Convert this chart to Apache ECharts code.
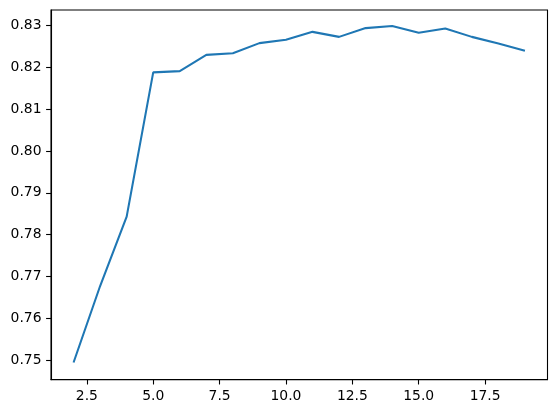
<!DOCTYPE html>
<html><head><meta charset="utf-8">
<script src="https://cdn.jsdelivr.net/npm/echarts@6/dist/echarts.min.js"></script>
<style>html,body{margin:0;padding:0;background:#fff}#c{width:556px;height:413px}</style>
</head><body><div id="c"></div>
<script>
const xValues = [2,3,4,5,6,7,8,9,10,11,12,13,14,15,16,17,18,19];
const yValues = [0.7494,0.7677,0.7843,0.8188,0.8191,0.8230,0.8234,0.8258,0.8266,0.8285,0.8273,0.8294,0.8299,0.8283,0.8293,0.8273,0.8257,0.8240];
const xTicks = [2.5,5.0,7.5,10.0,12.5,15.0,17.5];
const yTicks = [0.75,0.76,0.77,0.78,0.79,0.80,0.81,0.82,0.83];

const chart = echarts.init(document.getElementById('c'), null, {renderer:'canvas'});
const font = {fontFamily:'DejaVu Sans', fontSize:13.9, color:'#000'};
chart.setOption({
  animation:false,
  grid:{left:51, right:8.5, top:10, bottom:33.4, show:true, borderColor:'#000', borderWidth:1.1, backgroundColor:'#fff'},
  xAxis:{type:'value', min:1.15, max:19.85,
    axisLine:{show:true, lineStyle:{color:'#000', width:1.1}},
    axisTick:{show:true, length:4.9, customValues:xTicks, lineStyle:{color:'#000', width:1.1}},
    axisLabel:Object.assign({customValues:xTicks, margin:9.5, formatter:v=>v.toFixed(1)}, font),
    splitLine:{show:false}},
  yAxis:{type:'value', min:0.74531, max:0.83373,
    axisLine:{show:true, lineStyle:{color:'#000', width:1.1}},
    axisTick:{show:true, length:4.9, customValues:yTicks, lineStyle:{color:'#000', width:1.1}},
    axisLabel:Object.assign({customValues:yTicks, margin:9.5, formatter:v=>v.toFixed(2)}, font),
    splitLine:{show:false}},
  series:[{type:'line', data:xValues.map((x,i)=>[x,yValues[i]]), showSymbol:false, symbol:'none',
    lineStyle:{color:'#1f77b4', width:2.08}, itemStyle:{color:'#1f77b4'}}]
});
</script></body></html>
